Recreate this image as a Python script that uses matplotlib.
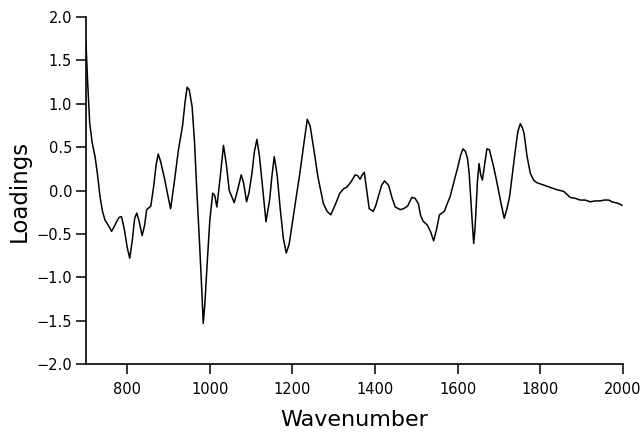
import matplotlib.pyplot as plt

# Loadings curve
wavenumber = [700, 704, 709, 715, 722, 728, 734, 740, 746, 754, 762, 768, 774, 780, 786,
              793, 800, 806, 812, 818, 823, 829, 836, 842, 847, 857, 864, 870, 875, 881,
              891, 898, 905, 914, 924, 934, 940, 945, 950, 957, 963, 968, 975, 981, 984,
              988, 994, 1000, 1007, 1012, 1017, 1025, 1033, 1040, 1047, 1059, 1067, 1076,
              1082, 1089, 1095, 1102, 1108, 1114, 1120, 1126, 1136, 1145, 1150, 1156, 1163,
              1170, 1178, 1185, 1192, 1202, 1210, 1218, 1228, 1236, 1243, 1251, 1262, 1275,
              1284, 1293, 1304, 1315, 1324, 1332, 1342, 1352, 1358, 1364, 1369, 1374, 1380,
              1386, 1396, 1402, 1408, 1416, 1423, 1433, 1441, 1449, 1461, 1469, 1479, 1489,
              1497, 1505, 1510, 1516, 1527, 1535, 1542, 1549, 1556, 1568, 1575, 1582, 1590,
              1600, 1607, 1613, 1619, 1624, 1628, 1632, 1636, 1639, 1642, 1645, 1648, 1652,
              1656, 1660, 1665, 1671, 1677, 1686, 1695, 1704, 1713, 1719, 1726, 1733, 1740,
              1746, 1752, 1757, 1761, 1768, 1776, 1784, 1792, 1804, 1816, 1828, 1840, 1857,
              1873, 1885, 1897, 1909, 1921, 1933, 1945, 1955, 1966, 1974, 1982, 1990, 1998]
loadings = [1.70, 1.25, 0.78, 0.55, 0.39, 0.18, -0.07, -0.24, -0.34, -0.40, -0.47, -0.42,
            -0.36, -0.31, -0.30, -0.45, -0.66, -0.78, -0.58, -0.32, -0.26, -0.36, -0.52,
            -0.40, -0.22, -0.18, 0.05, 0.30, 0.42, 0.33, 0.12, -0.05, -0.21, 0.10, 0.47,
            0.75, 1.02, 1.19, 1.16, 0.97, 0.55, 0.04, -0.60, -1.20, -1.53, -1.30, -0.80,
            -0.34, -0.03, -0.06, -0.19, 0.15, 0.52, 0.30, 0.00, -0.14, 0.00, 0.18, 0.08,
            -0.13, -0.02, 0.20, 0.45, 0.59, 0.40, 0.12, -0.36, -0.10, 0.15, 0.39, 0.18,
            -0.19, -0.55, -0.72, -0.62, -0.30, -0.05, 0.20, 0.55, 0.82, 0.74, 0.50, 0.15,
            -0.15, -0.24, -0.28, -0.16, -0.03, 0.02, 0.04, 0.10, 0.18, 0.17, 0.13, 0.18,
            0.21, 0.00, -0.21, -0.24, -0.17, -0.07, 0.06, 0.11, 0.06, -0.08, -0.19, -0.22,
            -0.21, -0.18, -0.08, -0.09, -0.15, -0.28, -0.35, -0.40, -0.48, -0.58, -0.45,
            -0.28, -0.24, -0.15, -0.07, 0.08, 0.26, 0.40, 0.48, 0.45, 0.37, 0.20, -0.11,
            -0.40, -0.61, -0.45, -0.19, 0.10, 0.31, 0.18, 0.12, 0.28, 0.48, 0.47, 0.30,
            0.10, -0.12, -0.32, -0.22, -0.07, 0.20, 0.47, 0.68, 0.77, 0.72, 0.66, 0.40,
            0.20, 0.12, 0.09, 0.07, 0.05, 0.03, 0.01, -0.01, -0.08, -0.09, -0.11, -0.11,
            -0.13, -0.12, -0.12, -0.11, -0.11, -0.13, -0.14, -0.15, -0.17]

fig = plt.figure(figsize=(6.44, 4.32), dpi=100)
ax = fig.add_axes([0.1335, 0.157, 0.8335, 0.804])

ax.plot(wavenumber, loadings, color='black', linewidth=1.1)

ax.set_xlim(700, 2000)
ax.set_ylim(-2.0, 2.0)
ax.set_xticks([800, 1000, 1200, 1400, 1600, 1800, 2000])
ax.set_yticks([-2.0, -1.5, -1.0, -0.5, 0.0, 0.5, 1.0, 1.5, 2.0])
ax.set_yticklabels(['\u22122.0', '\u22121.5', '\u22121.0', '\u22120.5', '0.0',
                    '0.5', '1.0', '1.5', '2.0'])

for side in ['top', 'right']:
    ax.spines[side].set_visible(False)
ax.spines['left'].set_linewidth(1.2)
ax.spines['bottom'].set_linewidth(1.2)
ax.tick_params(direction='out', length=7, width=1.1, labelsize=10.5)
ax.tick_params(axis='x', pad=6)
ax.tick_params(axis='y', pad=3)

ax.set_xlabel('Wavenumber', fontsize=16, labelpad=9)
ax.set_ylabel('Loadings', fontsize=16.5, labelpad=4)

fig.savefig('out.png', dpi=100)
